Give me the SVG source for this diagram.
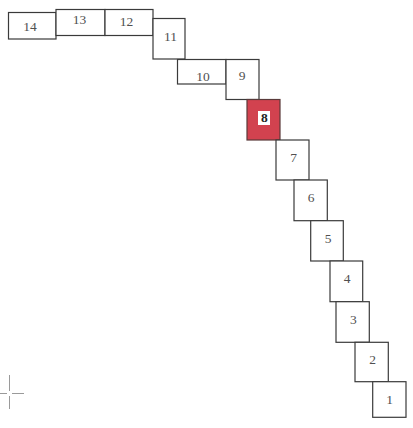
<svg xmlns="http://www.w3.org/2000/svg" width="413" height="428" viewBox="0 0 413 428">
<style>
.b{fill:#fff;stroke:#3a3a3a;stroke-width:1.2}
.r{fill:#d2424f;stroke:#5a3a3a;stroke-width:1.2}
.t{font-family:"Liberation Serif",serif;font-size:13.5px;fill:#505050;text-anchor:middle}
.c{stroke:#9a9a9a;stroke-width:1}
</style>
<rect width="413" height="428" fill="#fff"/>
<g id="n14"><rect class="b" x="8.5" y="12.5" width="47.5" height="26.5"/><text class="t" x="30" y="31">14</text></g>
<g id="n13"><rect class="b" x="56" y="9.5" width="49" height="26"/><text class="t" x="79.5" y="24">13</text></g>
<g id="n12"><rect class="b" x="105" y="9.5" width="48" height="26"/><text class="t" x="126.5" y="25.5">12</text></g>
<g id="n11"><rect class="b" x="153" y="18.5" width="32" height="40.5"/><text class="t" x="170.5" y="41">11</text></g>
<g id="n10"><rect class="b" x="177.5" y="59.5" width="48.5" height="24.5"/><text class="t" x="203" y="80.5">10</text></g>
<g id="n9"><rect class="b" x="226" y="59.5" width="33" height="40"/><text class="t" x="242" y="80">9</text></g>
<g id="n8"><rect class="r" x="247" y="99.5" width="33" height="40.5"/><rect x="258" y="111" width="12" height="14" fill="#fff"/><text class="t" x="264.3" y="121.7" style="fill:#222;font-weight:bold">8</text></g>
<g id="n7"><rect class="b" x="276" y="140" width="33" height="40"/><text class="t" x="293.7" y="161.7">7</text></g>
<g id="n6"><rect class="b" x="294" y="180" width="33.3" height="40.7"/><text class="t" x="311" y="202.3">6</text></g>
<g id="n5"><rect class="b" x="310.7" y="220.7" width="32.6" height="40.3"/><text class="t" x="328" y="243.3">5</text></g>
<g id="n4"><rect class="b" x="330" y="261" width="32.7" height="40.7"/><text class="t" x="347" y="283.3">4</text></g>
<g id="n3"><rect class="b" x="336" y="301.7" width="33.3" height="40.6"/><text class="t" x="353.3" y="324.3">3</text></g>
<g id="n2"><rect class="b" x="355" y="342.3" width="33.3" height="39.4"/><text class="t" x="372.7" y="364.3">2</text></g>
<g id="n1"><rect class="b" x="372.7" y="381.7" width="33.3" height="35.6"/><text class="t" x="389.7" y="404.3">1</text></g>
<g id="connectors"></g>
<g id="crosshair"><line class="c" x1="9.5" y1="375" x2="9.5" y2="391"/><line class="c" x1="9.5" y1="396" x2="9.5" y2="409"/><line class="c" x1="0" y1="393.5" x2="7" y2="393.5"/><line class="c" x1="12" y1="393.5" x2="24" y2="393.5"/></g>
</svg>
